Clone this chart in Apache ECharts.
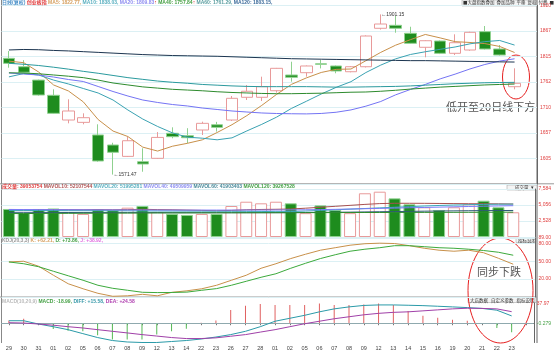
<!DOCTYPE html>
<html>
<head>
<meta charset="utf-8">
<script src="https://cdn.jsdelivr.net/npm/echarts@6/dist/echarts.min.js"></script>
<style>
  html, body { margin: 0; padding: 0; background: #fff; }
  #main { width: 554px; height: 351px; }
</style>
</head>
<body>
<div id="main"></div>
<script>
  // trading days
  var dates = ['29','30','31','01','02','05','06','07','08','09','12','13','14','22','23','26','27','28',
               '01','02','05','06','07','08','09','12','13','14','15','16','19','20','21','22','23'];

  // daily candles
  var kOpen  = [1810.8,1793.5,1766,1734.7,1683.8,1679,1653,1632.4,1609,1598,1605,1656.5,1651.5,1663.3,1674,1683.8,1730.6,1730.6,
                1744.1,1776.4,1781.2,1799.5,1795,1783.2,1793.5,1872.6,1878.7,1862.3,1833.5,1846.4,1821.1,1827.9,1865.6,1830,1752.4];
  var kClose = [1800.5,1782,1735.3,1697.6,1702.4,1688.6,1599.5,1617.4,1641.2,1593.3,1648,1649.5,1647.4,1677,1668.8,1728.5,1743,1752.4,
                1790.2,1771.7,1795,1798.5,1784.7,1793.5,1856.7,1881.4,1872.6,1841.7,1847,1821.1,1842.9,1864.3,1830,1817.6,1759.4];
  var kLow   = [1791.5,1780.6,1734,1696.5,1677,1675,1598,1571.47,1608,1577.4,1604,1646.2,1636,1653,1660,1681.8,1725,1723,
                1740,1762.7,1773,1790,1780,1782,1792,1870,1863.5,1840.5,1812.9,1819.5,1817.6,1826.5,1829,1816.5,1747];
  var kHigh  = [1825.8,1807,1767,1747,1726.4,1697.6,1675,1637,1649.5,1625.6,1659,1668.8,1667,1680.4,1680,1733.2,1755.9,1773,
                1791,1803.8,1796,1807.3,1796,1795,1858,1901.15,1897.9,1875.8,1848,1847.5,1860.2,1865.5,1877.3,1838.2,1790.2];

  var ma5   = [1805,1801.8,1782.6,1756,1743.6,1721.2,1684.7,1661.1,1649.8,1628,1619.9,1629.9,1635.9,1643,1658.1,1674.2,1692.9,1713.9,
               1736.6,1757.2,1770.5,1781.7,1788.1,1788.8,1805.8,1823,1837.8,1849.2,1859.9,1852.8,1845.1,1843.4,1841.1,1835.2,1822.77];
  var ma10  = [1772.6,1779.5,1776.4,1766,1758,1748.7,1739.4,1725,1704.4,1685.8,1670.5,1657.3,1648.5,1646.4,1643.1,1647.1,1661.4,1674.9,
               1689.8,1707.7,1722.4,1737.3,1751,1762.7,1781.5,1796.8,1809.7,1818.7,1824.3,1829.3,1834.1,1840.6,1845.1,1847.5,1838.03];
  var ma20  = [1780.6,1778.5,1776.4,1772.3,1767.2,1763.1,1752.8,1742.5,1733.2,1725,1719.9,1715.7,1712.7,1708.5,1705.5,1702.4,1700.3,1698.3,
               1697.2,1696.7,1696.4,1697.3,1699.8,1704.6,1712.3,1721.9,1735.6,1746.7,1757.1,1768.5,1778.2,1788.9,1798.1,1805.1,1809.83];
  var ma40  = [1781,1780.5,1779,1776.5,1774,1771,1766,1760,1756,1752,1749.5,1747,1745.5,1744,1742,1740.5,1739.5,1738.5,
               1738,1738,1738.5,1739,1740,1741,1741.5,1743,1745,1747.5,1749.5,1751.5,1753,1754.5,1756,1757,1757.84];
  var ma60  = [1800.5,1798.5,1796,1792.5,1788.5,1784,1780,1775.5,1771,1767.5,1764,1761.5,1759.5,1757,1755.5,1754,1753,1752.5,
               1752.5,1752.5,1752.5,1752,1751.5,1751.5,1752,1752.5,1753,1754,1755.5,1757,1758.5,1759.5,1760.5,1761,1761.29];
  var ma120 = [1828,1829,1828.5,1827,1826,1824.5,1823,1821.5,1820,1818.5,1817.5,1816.5,1816,1815.5,1815,1814,1813,1812,
               1811,1810,1809.5,1809,1808.5,1808,1807.5,1807,1806.5,1806,1806,1805.5,1805,1804.5,1804,1803.5,1803.15];

  // volume, 10k shares
  var vol = [4427,3800,4427,4506,3957,3643,4349,4270,4632,4898,3957,3643,3486,3643,3643,4898,5573,5322,
             5573,5322,3768,4992,4270,3768,6908,7159,6107,5165,4695,4270,4695,5165,5730,4695,3905];
  var mavol10  = [4300,4280,4300,4330,4320,4300,4320,4300,4320,4380,4330,4300,4250,4200,4150,4200,4300,4350,
                  4380,4420,4550,4700,4850,5000,5150,5280,5330,5330,5320,5300,5280,5260,5250,5240,5211];
  var mavol20  = [4200,4200,4180,4170,4160,4150,4150,4140,4130,4120,4110,4100,4090,4080,4070,4060,4050,4040,
                  4000,4020,4100,4200,4300,4400,4500,4600,4700,4800,4900,4980,5050,5100,5150,5180,5200];
  var mavol40  = [4350,4340,4330,4320,4310,4300,4290,4280,4270,4270,4260,4260,4250,4250,4250,4250,4260,4260,
                  4266,4280,4300,4330,4370,4420,4470,4520,4570,4620,4670,4720,4770,4820,4870,4910,4951];
  var mavol60  = [3900,3900,3890,3880,3870,3860,3860,3850,3850,3850,3850,3840,3840,3840,3840,3840,3840,3840,
                  3840,3850,3870,3890,3910,3930,3960,3990,4020,4050,4080,4110,4130,4150,4170,4180,4190];
  var mavol120 = [3700,3710,3720,3730,3740,3750,3760,3770,3780,3790,3800,3805,3810,3815,3820,3825,3830,3835,
                  3840,3845,3850,3855,3860,3865,3870,3875,3880,3885,3890,3895,3900,3905,3910,3918,3927];

  var kdjK = [48.8,50,41.6,26.5,12.2,3.8,-3.8,-8.8,-8,-5.5,-8,-2.1,0.4,3.8,9.7,18.1,26.5,38.2,
              45.8,54.5,61.8,68.5,72.7,76.9,79.4,80.3,79.7,76.1,71.8,68.5,66.8,68.5,64.3,55,45];
  var kdjD = [48.8,45.8,40.8,33.2,25.6,18.1,9.7,4.6,1.3,-2.1,-2.6,-2.4,-1.8,1.3,4.1,9.7,16.4,23.1,
              29,38.2,46.6,54.5,60.9,66.8,70.2,72.7,76.1,76.1,74.4,72.7,71.8,70.2,68,65.1,60.1];

  var macdBar = [5.9,9.5,0,-12.2,-15.8,-17.2,-25.6,-34.7,-34.7,-34.7,-24.2,-17.2,-11.6,1,6,28,37,41,
                 39,39,39,42,39,39,40,42,39,26,16,11.5,7.4,5.3,0,-10,-18.99];
  var diff = [5.3,5.3,-1.7,-7.4,-13.7,-22.1,-30.5,-36.8,-39.9,-41,-41,-38.9,-36.8,-33.6,-29.4,-24.2,-17.2,-7.4,
              4.2,10.5,16.8,24.2,30.5,34.7,37.8,38.9,38.9,38.2,37.4,36.1,34.7,33.2,31.5,27.7,15.58];
  var dea = [1.1,0.4,-1.7,-4.2,-7.4,-10.1,-13.7,-17.2,-20.6,-24.2,-27.3,-30.5,-32.6,-32.6,-31.1,-27.7,-24.2,-18.9,
             -13.7,-7.4,-1.1,4.2,9.5,13.7,17.9,21,23.1,24.2,26.3,28.4,30.5,31.9,31.5,30.5,24.58];

  var FONT = '"Liberation Sans", Arial, "Noto Sans CJK SC", sans-serif';
  var CJK = '"Noto Sans CJK SC", sans-serif';
  var UP = '#e89a9a', DOWN = '#1e8c1e', DOWN_EDGE = '#8fd18f';
  var GRID_LINE = '#dcf0f4';

  var cats = dates.concat(['']);
  var candles = dates.map(function (d, i) { return [kOpen[i], kClose[i], kLow[i], kHigh[i]]; });
  var volData = vol.map(function (v, i) {
    var up = kClose[i] >= kOpen[i];
    return { value: v, itemStyle: { color: up ? '#fff' : DOWN, borderColor: up ? UP : DOWN_EDGE, borderWidth: 1 } };
  });
  var macdData = macdBar.map(function (v) {
    return { value: v, itemStyle: { color: v >= 0 ? '#e06060' : '#55b855' } };
  });

  function rs(color, size) { return { color: color, fontSize: size || 5, fontFamily: FONT }; }
  function line(name, data, color, xi, yi) {
    return { name: name, type: 'line', data: data, xAxisIndex: xi, yAxisIndex: yi, symbol: 'none',
             lineStyle: { color: color, width: 1 }, z: 5, silent: true };
  }
  function xAx(gi, show) {
    return {
      type: 'category', data: cats, gridIndex: gi, boundaryGap: true,
      axisLine: { show: show, lineStyle: { color: '#777' } },
      axisTick: { show: show, alignWithLabel: true, length: 2, lineStyle: { color: '#777' } },
      axisLabel: { show: show, interval: 0, fontSize: 5.5, color: '#444', margin: 3, fontFamily: FONT },
      splitLine: { show: false }
    };
  }

  var chart = echarts.init(document.getElementById('main'));
  chart.setOption({
    animation: false,
    backgroundColor: '#fff',
    title: [
      { left: 2, top: 0, padding: 0,
        text: '{t|日线(复权)} {n|创业板指} {a|MA5: 1822.77,} {b|MA10: 1838.03,} {c|MA20: 1809.83}{u|↑} {d|MA40: 1757.84}{u|↑} {e|MA60: 1761.29,} {f|MA120: 1803.15,}',
        textStyle: { fontSize: 5, rich: { t: rs('#4a90c8'), n: rs('#e03c3c'), a: rs('#d6a060'), b: rs('#5ab0c0'),
          c: rs('#8c8cf0'), d: rs('#44a044'), e: rs('#5a9ea0'), f: rs('#3a6a9a'), u: rs('#e03c3c') } } },
      { left: 2, top: 184, padding: 0,
        text: '{a|成交量: 39053754} {b|MAVOL10: 52107544} {c|MAVOL20: 51995281} {d|MAVOL40: 49509959} {e|MAVOL60: 41903403} {f|MAVOL120: 39267528}',
        textStyle: { fontSize: 5, rich: { a: rs('#e03c3c'), b: rs('#b05050'), c: rs('#5ab0c0'), d: rs('#8c8cf0'), e: rs('#4a8a9a'), f: rs('#44a044') } } },
      { left: 2, top: 238, padding: 0,
        text: '{a|KDJ(20,3,3)} {b|K: +62.21,} {c|D: +73.86,} {d|J: +38.92,}',
        textStyle: { fontSize: 5, rich: { a: rs('#999'), b: rs('#d6a060'), c: rs('#44a044'), d: rs('#e070e0') } } },
      { left: 2, top: 299, padding: 0,
        text: '{a|MACD(10,20,9)} {b|MACD: -18.99,} {c|DIFF: +15.58,} {d|DEA: +24.58}',
        textStyle: { fontSize: 5, rich: { a: rs('#bbb'), b: rs('#44a044'), c: rs('#3a9aaa'), d: rs('#b040b0') } } }
    ],
    grid: [
      { left: 1.5, right: 17, top: 5.4, height: 178.4 },
      { left: 1.5, right: 17, top: 189, height: 48 },
      { left: 1.5, right: 17, top: 238, height: 59 },
      { left: 1.5, right: 17, top: 303, height: 40 }
    ],
    xAxis: [xAx(0, false), xAx(1, false), xAx(2, false), xAx(3, true)],
    yAxis: [
      { gridIndex: 0, position: 'right', scale: true, min: 1552.55, max: 1919.7, interval: 52.45,
        axisLine: { show: true, lineStyle: { color: '#666' } }, axisTick: { show: false },
        axisLabel: { showMinLabel: false, showMaxLabel: true, fontSize: 5, color: '#e04040', margin: 3, fontFamily: FONT,
                     formatter: function (v) { return Math.round(v); } },
        splitLine: { lineStyle: { color: GRID_LINE } } },
      { gridIndex: 1, position: 'right', min: 0, max: 7584, interval: 2528,
        axisLine: { show: true, lineStyle: { color: '#666' } }, axisTick: { show: false },
        axisLabel: { showMinLabel: false, fontSize: 5, color: '#e04040', margin: 3, fontFamily: FONT },
        splitLine: { lineStyle: { color: GRID_LINE } } },
      { gridIndex: 2, position: 'right', min: -10, max: 89, interval: 30,
        axisLine: { show: true, lineStyle: { color: '#666' } }, axisTick: { show: false },
        axisLabel: { showMinLabel: false, fontSize: 5, color: '#e04040', margin: 3, fontFamily: FONT,
                     formatter: function (v) { return v.toFixed(2); } },
        splitLine: { lineStyle: { color: GRID_LINE } } },
      { gridIndex: 3, position: 'right', min: -41, max: 43, interval: 41,
        axisLine: { show: true, lineStyle: { color: '#666' } }, axisTick: { show: false },
        axisLabel: { showMinLabel: false, fontSize: 5, margin: 3, fontFamily: FONT,
                     color: function (v) { return Number(v) === 0 ? '#44a044' : '#e04040'; },
                     formatter: function (v) { return v === 0 ? '-0.279' : '37.97'; } },
        splitLine: { show: false } }
    ],
    series: [
      { name: 'K', type: 'candlestick', data: candles, xAxisIndex: 0, yAxisIndex: 0, barWidth: 12,
        itemStyle: { color: '#fff', color0: DOWN, borderColor: UP, borderColor0: DOWN_EDGE, borderWidth: 1 },
        markPoint: {
          symbol: 'rect', symbolSize: [1, 1], silent: true,
          label: { position: 'right', distance: 0, fontSize: 5, color: '#333', fontFamily: FONT,
                   formatter: function (p) { return '\u2190' + p.value; } },
          itemStyle: { color: 'transparent' },
          data: [{ type: 'max', valueDim: 'highest' }, { type: 'min', valueDim: 'lowest' }]
        } },
      line('MA5', ma5, '#c8904a', 0, 0),
      line('MA10', ma10, '#3aa2b2', 0, 0),
      line('MA20', ma20, '#7474f4', 0, 0),
      line('MA40', ma40, '#2e8b2e', 0, 0),
      line('MA60', ma60, '#2a9a9e', 0, 0),
      line('MA120', ma120, '#1c3550', 0, 0),
      { name: 'VOL', type: 'bar', data: volData, xAxisIndex: 1, yAxisIndex: 1, barWidth: 12 },
      line('MAVOL10', mavol10, '#a85050', 1, 1),
      line('MAVOL20', mavol20, '#3aa8b8', 1, 1),
      line('MAVOL40', mavol40, '#7b7bf8', 1, 1),
      line('MAVOL60', mavol60, '#2f5a78', 1, 1),
      line('MAVOL120', mavol120, '#2e8b2e', 1, 1),
      line('K', kdjK, '#c8904a', 2, 2),
      line('D', kdjD, '#3caa3c', 2, 2),
      { name: 'MACD', type: 'bar', data: macdData, xAxisIndex: 3, yAxisIndex: 3, barWidth: 1,
        markLine: { silent: true, symbol: 'none', label: { show: false },
                    lineStyle: { color: '#a8dce6', type: 'dotted', width: 1 }, data: [{ yAxis: 0 }] } },
      line('DIFF', diff, '#2a9aa8', 3, 3),
      line('DEA', dea, '#a040a8', 3, 3)
    ],
    graphic: [
      { type: 'line', shape: { x1: 1.5, y1: 0, x2: 1.5, y2: 343 }, style: { stroke: '#888', lineWidth: 1 } },
      { type: 'line', shape: { x1: 537, y1: 0, x2: 537, y2: 343 }, style: { stroke: '#666', lineWidth: 1 } },
      { type: 'line', shape: { x1: 0, y1: 183.8, x2: 554, y2: 183.8 }, style: { stroke: '#999', lineWidth: 1 } },
      { type: 'line', shape: { x1: 0, y1: 297, x2: 537, y2: 297 }, style: { stroke: '#999', lineWidth: 1 } },
      // toolbar
      { type: 'rect', shape: { x: 462, y: 0, width: 74, height: 6 }, style: { fill: '#f4f4f4', stroke: '#999', lineWidth: 0.5 } },
      { type: 'text', x: 463, y: 0.5, style: { text: '■大盘指数叠加  叠加品种  平移  复权  付费  ■', fontSize: 4.5, fill: '#333', fontFamily: CJK } },
      { type: 'rect', shape: { x: 507, y: 185, width: 30, height: 5 }, style: { fill: '#f4f4f4', stroke: '#999', lineWidth: 0.5 } },
      { type: 'text', x: 515, y: 185.3, style: { text: '成交量  ▾', fontSize: 4.5, fill: '#333', fontFamily: CJK } },
      { type: 'rect', shape: { x: 516, y: 237.5, width: 20, height: 5 }, style: { fill: '#f4f4f4', stroke: '#999', lineWidth: 0.5 } },
      { type: 'text', x: 518, y: 238, style: { text: '指标说明', fontSize: 4.5, fill: '#333', fontFamily: CJK } },
      { type: 'rect', shape: { x: 468, y: 297.5, width: 68, height: 5 }, style: { fill: '#f4f4f4', stroke: '#999', lineWidth: 0.5 } },
      { type: 'text', x: 470, y: 298, style: { text: '大店数据   自定义参数   指标说明', fontSize: 4.5, fill: '#333', fontFamily: CJK } },
      // annotations
      { type: 'ellipse', shape: { cx: 516, cy: 77, rx: 13.5, ry: 22 }, style: { fill: 'none', stroke: '#e62020', lineWidth: 1 } },
      { type: 'text', x: 446, y: 101, style: { text: '低开至20日线下方', fontSize: 11, fill: '#555', fontFamily: CJK } },
      { type: 'ellipse', shape: { cx: 500.5, cy: 290.5, rx: 32.5, ry: 52.5 }, style: { fill: 'none', stroke: '#e62020', lineWidth: 1 } },
      { type: 'text', x: 477, y: 266, style: { text: '同步下跌', fontSize: 11, fill: '#555', fontFamily: CJK } }
    ]
  });
</script>
</body>
</html>
